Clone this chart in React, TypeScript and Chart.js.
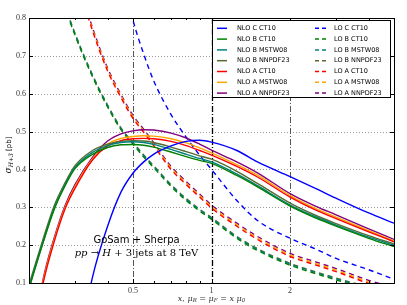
import React, { useEffect, useRef } from "react";
import { Chart, registerables } from "chart.js";

Chart.register(...registerables);

// ---------------- data ----------------
const xGrid = [0.2, 0.225, 0.25, 0.275, 0.3, 0.35, 0.4, 0.45, 0.5, 0.55, 0.6, 0.7, 0.8, 0.9, 1.0, 1.25, 1.5, 2, 2.5, 3, 4, 5];

const nloC_CT10 = [null, null, null, null, -0.12, 0.115, 0.25, 0.34, 0.39, 0.42, 0.44, 0.462, 0.474, 0.477, 0.472, 0.45, 0.42, 0.381, 0.35, 0.324, 0.285, 0.258];
const nloB_CT10 = [0.085, 0.2, 0.295, 0.357, 0.402, 0.44, 0.458, 0.465, 0.466, 0.464, 0.459, 0.446, 0.434, 0.424, 0.416, 0.384, 0.354, 0.303, 0.272, 0.25, 0.218, 0.196];
const nloB_MSTW08 = [0.088, 0.203, 0.298, 0.36, 0.405, 0.445, 0.463, 0.471, 0.473, 0.471, 0.466, 0.453, 0.44, 0.429, 0.42, 0.388, 0.357, 0.306, 0.275, 0.253, 0.221, 0.2];
const nloB_NNPDF23 = [0.095, 0.21, 0.305, 0.365, 0.41, 0.45, 0.467, 0.474, 0.476, 0.475, 0.471, 0.459, 0.447, 0.436, 0.427, 0.395, 0.363, 0.311, 0.279, 0.257, 0.225, 0.203];
const nloA_CT10 = [-0.12, 0.09, 0.21, 0.296, 0.35, 0.425, 0.462, 0.476, 0.481, 0.482, 0.481, 0.474, 0.463, 0.45, 0.438, 0.408, 0.38, 0.327, 0.293, 0.27, 0.235, 0.209];
const nloA_MSTW08 = [-0.12, 0.095, 0.215, 0.3, 0.355, 0.428, 0.467, 0.482, 0.487, 0.489, 0.488, 0.481, 0.47, 0.457, 0.444, 0.413, 0.385, 0.331, 0.297, 0.274, 0.238, 0.211];
const nloA_NNPDF23 = [-0.12, 0.1, 0.22, 0.305, 0.36, 0.432, 0.475, 0.494, 0.502, 0.505, 0.504, 0.496, 0.483, 0.467, 0.451, 0.42, 0.391, 0.336, 0.303, 0.28, 0.243, 0.215];

const loC_CT10 = [null, null, null, null, null, null, null, 0.93, 0.795, 0.705, 0.635, 0.545, 0.485, 0.438, 0.4, 0.318, 0.265, 0.218, 0.19, 0.165, 0.135, 0.11];
const loB_CT10 = [null, null, 0.95, 0.83, 0.755, 0.645, 0.565, 0.505, 0.467, 0.433, 0.405, 0.355, 0.318, 0.29, 0.268, 0.218, 0.186, 0.147, 0.125, 0.108, 0.085, 0.07];
const loB_MSTW08 = [null, null, 0.953, 0.833, 0.758, 0.648, 0.568, 0.508, 0.47, 0.436, 0.408, 0.358, 0.321, 0.293, 0.271, 0.221, 0.189, 0.15, 0.128, 0.111, 0.088, 0.073];
const loB_NNPDF23 = [null, null, 0.955, 0.835, 0.76, 0.65, 0.57, 0.51, 0.472, 0.438, 0.41, 0.36, 0.323, 0.295, 0.273, 0.223, 0.191, 0.152, 0.13, 0.113, 0.09, 0.075];
const loA_CT10 = [null, null, null, null, 0.92, 0.767, 0.66, 0.59, 0.535, 0.498, 0.463, 0.4, 0.36, 0.327, 0.298, 0.25, 0.215, 0.17, 0.148, 0.13, 0.099, 0.08];
const loA_MSTW08 = [null, null, null, null, 0.924, 0.771, 0.664, 0.594, 0.539, 0.502, 0.467, 0.404, 0.364, 0.331, 0.302, 0.254, 0.219, 0.174, 0.152, 0.134, 0.103, 0.084];
const loA_NNPDF23 = [null, null, null, null, 0.928, 0.775, 0.668, 0.598, 0.543, 0.506, 0.471, 0.408, 0.368, 0.335, 0.306, 0.258, 0.223, 0.178, 0.156, 0.138, 0.107, 0.088];

const nloLabels = ["NLO C CT10", "NLO B CT10", "NLO B MSTW08", "NLO B NNPDF23", "NLO A CT10", "NLO A MSTW08", "NLO A NNPDF23"];
const loLabels = ["LO C CT10", "LO B CT10", "LO B MSTW08", "LO B NNPDF23", "LO A CT10", "LO A MSTW08", "LO A NNPDF23"];
const seriesColors = ["#0000ff", "#008000", "#008080", "#556b2f", "#ff0000", "#ffa500", "#800080"];
const nloSeries = [nloC_CT10, nloB_CT10, nloB_MSTW08, nloB_NNPDF23, nloA_CT10, nloA_MSTW08, nloA_NNPDF23];
const loSeries = [loC_CT10, loB_CT10, loB_MSTW08, loB_NNPDF23, loA_CT10, loA_MSTW08, loA_NNPDF23];

const xTickLabels = [0.5, 1, 2];
const xMinorTicks = [0.2, 0.3, 0.4, 0.6, 0.7, 0.8, 0.9, 3, 4];
const yTicks = [0.1, 0.2, 0.3, 0.4, 0.5, 0.6, 0.7, 0.8];

// ---------------- helpers ----------------
type Seg = { t: string; font: string; dy?: number };
function drawSegs(ctx: CanvasRenderingContext2D, segs: Seg[], cx: number, cy: number) {
  let w = 0;
  segs.forEach((s) => {
    ctx.font = s.font;
    w += ctx.measureText(s.t).width;
  });
  let x = cx - w / 2;
  ctx.textAlign = "left";
  ctx.textBaseline = "middle";
  segs.forEach((s) => {
    ctx.font = s.font;
    ctx.fillText(s.t, x, cy + (s.dy || 0));
    x += ctx.measureText(s.t).width;
  });
}

const overlay = {
  id: "overlay",
  beforeDatasetsDraw(chart: any) {
    const { ctx, chartArea: a, scales } = chart;
    const x = scales.x;
    const y = scales.y;
    ctx.save();
    ctx.lineWidth = 1;
    ctx.strokeStyle = "#9a9a9a";
    ctx.setLineDash([1, 2]);
    yTicks.forEach((v) => {
      const py = Math.round(y.getPixelForValue(v)) + 0.5;
      ctx.beginPath();
      ctx.moveTo(a.left, py);
      ctx.lineTo(a.right, py);
      ctx.stroke();
    });
    xTickLabels.forEach((v) => {
      const px = Math.round(x.getPixelForValue(v)) + 0.5;
      ctx.strokeStyle = v === 1 ? "#000000" : "#555555";
      ctx.lineWidth = v === 1 ? 1.3 : 1;
      ctx.setLineDash([6, 2, 1, 2]);
      ctx.beginPath();
      ctx.moveTo(px, a.top);
      ctx.lineTo(px, a.bottom);
      ctx.stroke();
    });
    ctx.restore();
  },
  afterDatasetsDraw(chart: any) {
    const { ctx, chartArea: a, scales } = chart;
    const x = scales.x;
    const y = scales.y;
    ctx.save();
    ctx.setLineDash([]);
    ctx.strokeStyle = "#000";
    ctx.lineWidth = 1;
    yTicks.forEach((v) => {
      const py = Math.round(y.getPixelForValue(v)) + 0.5;
      ctx.beginPath();
      ctx.moveTo(a.left, py);
      ctx.lineTo(a.left + 4, py);
      ctx.moveTo(a.right, py);
      ctx.lineTo(a.right - 4, py);
      ctx.stroke();
    });
    xTickLabels.forEach((v) => {
      const px = Math.round(x.getPixelForValue(v)) + 0.5;
      ctx.beginPath();
      ctx.moveTo(px, a.bottom);
      ctx.lineTo(px, a.bottom - 4);
      ctx.moveTo(px, a.top);
      ctx.lineTo(px, a.top + 4);
      ctx.stroke();
    });
    xMinorTicks.forEach((v) => {
      const px = Math.round(x.getPixelForValue(v)) + 0.5;
      ctx.beginPath();
      ctx.moveTo(px, a.bottom);
      ctx.lineTo(px, a.bottom - 2);
      ctx.moveTo(px, a.top);
      ctx.lineTo(px, a.top + 2);
      ctx.stroke();
    });
    ctx.strokeRect(Math.round(a.left) + 0.5, Math.round(a.top) + 0.5, Math.round(a.right - a.left), Math.round(a.bottom - a.top));

    // legend
    const lx = 212, ly = 20, lw = 178, lh = 77;
    ctx.fillStyle = "#ffffff";
    ctx.fillRect(lx, ly, lw, lh);
    ctx.strokeStyle = "#000";
    ctx.strokeRect(lx + 0.5, ly + 0.5, lw, lh);
    ctx.font = "6.5px 'DejaVu Sans'";
    ctx.textBaseline = "middle";
    ctx.textAlign = "left";
    for (let i = 0; i < 7; i++) {
      const ry = ly + 8.3 + i * 10.8;
      ctx.strokeStyle = seriesColors[i];
      ctx.lineWidth = 1.5;
      ctx.setLineDash([]);
      ctx.beginPath();
      ctx.moveTo(217, ry);
      ctx.lineTo(227, ry);
      ctx.stroke();
      ctx.setLineDash([4, 3]);
      ctx.beginPath();
      ctx.moveTo(315, ry);
      ctx.lineTo(326, ry);
      ctx.stroke();
      ctx.setLineDash([]);
      ctx.fillStyle = "#000";
      ctx.fillText(nloLabels[i], 237, ry);
      ctx.fillText(loLabels[i], 334, ry);
    }

    ctx.fillStyle = "#000";
    drawSegs(ctx, [{ t: "GoSam + Sherpa", font: "10px 'DejaVu Sans'" }], 136.5, 240);
    drawSegs(
      ctx,
      [
        { t: "pp", font: "italic 10px 'DejaVu Serif'" },
        { t: " \u2192 ", font: "10px 'DejaVu Serif'" },
        { t: "H", font: "italic 10px 'DejaVu Serif'" },
        { t: " + 3 jets at 8 TeV", font: "10px 'DejaVu Serif'" },
      ],
      136.5,
      253
    );
    ctx.restore();
  },
  afterDraw(chart: any) {
    const { ctx } = chart;
    ctx.save();
    ctx.fillStyle = "#000";
    ctx.translate(9, 155);
    ctx.rotate(-Math.PI / 2);
    drawSegs(
      ctx,
      [
        { t: "\u03c3", font: "italic 9px 'DejaVu Serif'" },
        { t: "H+3", font: "italic 6px 'DejaVu Serif'", dy: 2.5 },
        { t: " [pb]", font: "7px 'DejaVu Sans'" },
      ],
      0,
      0
    );
    ctx.restore();
    ctx.save();
    ctx.fillStyle = "#333";
    const it = "italic 8px 'DejaVu Serif'";
    const rm = "8px 'DejaVu Serif'";
    const sb = "italic 5.5px 'DejaVu Serif'";
    drawSegs(
      ctx,
      [
        { t: "x", font: it },
        { t: ", ", font: rm },
        { t: "\u03bc", font: it },
        { t: "R", font: sb, dy: 2 },
        { t: " = ", font: rm },
        { t: "\u03bc", font: it },
        { t: "F", font: sb, dy: 2 },
        { t: " = ", font: rm },
        { t: "x", font: it },
        { t: " ", font: rm },
        { t: "\u03bc", font: it },
        { t: "0", font: sb, dy: 2 },
      ],
      211.5,
      299
    );
    ctx.restore();
  },
};

export default function App() {
  const ref = useRef<HTMLCanvasElement | null>(null);
  useEffect(() => {
    if (!ref.current) return;
    const datasets: any[] = [];
    nloSeries.forEach((arr, i) => {
      datasets.push({
        label: nloLabels[i],
        data: xGrid.map((xv, j) => ({ x: xv, y: arr[j] })),
        borderColor: seriesColors[i],
        borderWidth: 1.4,
        pointRadius: 0,
        fill: false,
        cubicInterpolationMode: "monotone",
        spanGaps: false,
      });
    });
    loSeries.forEach((arr, i) => {
      datasets.push({
        label: loLabels[i],
        data: xGrid.map((xv, j) => ({ x: xv, y: arr[j] })),
        borderColor: seriesColors[i],
        borderWidth: 1.4,
        borderDash: [5, 4],
        pointRadius: 0,
        fill: false,
        cubicInterpolationMode: "monotone",
        spanGaps: false,
      });
    });
    const chart = new Chart(ref.current, {
      type: "line",
      data: { datasets },
      plugins: [overlay],
      options: {
        animation: false,
        responsive: false,
        devicePixelRatio: 1,
        layout: { padding: { top: 18, right: 13, left: 0, bottom: 0 } },
        plugins: { legend: { display: false }, tooltip: { enabled: false } },
        scales: {
          x: {
            type: "logarithmic",
            min: 0.2,
            max: 5,
            grid: { display: false, drawTicks: false },
            border: { display: false },
            afterBuildTicks: (s: any) => {
              s.ticks = xTickLabels.map((v) => ({ value: v }));
            },
            afterFit: (s: any) => {
              s.height = 22;
            },
            ticks: {
              autoSkip: false,
              maxRotation: 0,
              padding: 3,
              color: "#333",
              font: { family: "'Liberation Serif'", size: 8 },
              callback: (v: any) => String(v),
            },
          },
          y: {
            type: "linear",
            min: 0.1,
            max: 0.8,
            grid: { display: false, drawTicks: false },
            border: { display: false },
            afterBuildTicks: (s: any) => {
              s.ticks = yTicks.map((v) => ({ value: v }));
            },
            afterFit: (s: any) => {
              s.width = 29;
            },
            ticks: {
              padding: 3,
              color: "#333",
              font: { family: "'Liberation Serif'", size: 8 },
              callback: (v: any) => Number(v).toFixed(1),
            },
          },
        },
      } as any,
    });
    return () => chart.destroy();
  }, []);
  return (
    <div style={{ position: "fixed", left: 0, top: 0, width: 407, height: 305, background: "#fff" }}>
      <canvas ref={ref} width={407} height={305} style={{ width: 407, height: 305 }} />
    </div>
  );
}
